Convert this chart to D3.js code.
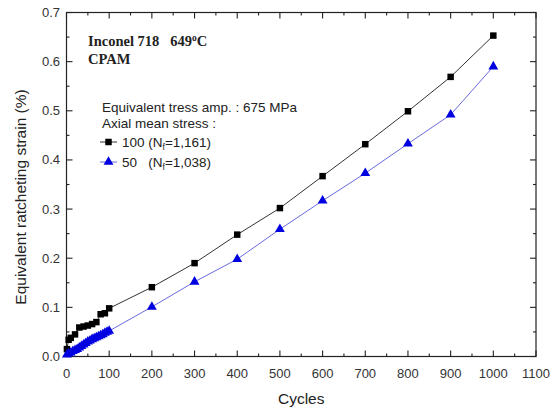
<!DOCTYPE html>
<html><head><meta charset="utf-8">
<script src="https://cdn.jsdelivr.net/npm/d3@7"></script>
<style>body{margin:0;background:#fff}svg{display:block}text{white-space:pre}</style>
</head><body>
<svg id="c" width="558" height="417"></svg>
<script>
const cyclesA = [1, 5, 10, 20, 30, 40, 50, 60, 70, 80, 90, 100, 200, 300, 400, 500, 600, 700, 800, 900, 1000];
const strainA = [0.015, 0.034, 0.038, 0.045, 0.059, 0.061, 0.063, 0.066, 0.070, 0.086, 0.088, 0.098, 0.141, 0.190, 0.248, 0.302, 0.367, 0.432, 0.499, 0.569, 0.653];
const cyclesB = [1, 5, 10, 15, 20, 25, 30, 35, 40, 45, 50, 55, 60, 65, 70, 75, 80, 85, 90, 95, 100, 200, 300, 400, 500, 600, 700, 800, 900, 1000];
const strainB = [0.004, 0.006, 0.008, 0.011, 0.013, 0.015, 0.018, 0.021, 0.024, 0.027, 0.030, 0.032, 0.035, 0.037, 0.039, 0.041, 0.043, 0.045, 0.048, 0.050, 0.052, 0.101, 0.152, 0.198, 0.259, 0.317, 0.373, 0.433, 0.492, 0.590];
const xTicks = [0, 100, 200, 300, 400, 500, 600, 700, 800, 900, 1000, 1100];
const yTicks = [0.0, 0.1, 0.2, 0.3, 0.4, 0.5, 0.6, 0.7];

const svg = d3.select("#c");
const L = 66.5, R = 536, T = 12.5, B = 356.5;
const x = d3.scaleLinear().domain([0, 1100]).range([L, R]);
const y = d3.scaleLinear().domain([0, 0.7]).range([B, T]);
const font = "Liberation Sans, Arial, sans-serif";

// frame
svg.append("rect").attr("x", L).attr("y", T).attr("width", R - L).attr("height", B - T)
  .attr("fill", "none").attr("stroke", "#222").attr("stroke-width", 1.2);

const minorX = d3.range(50, 1100, 100);
const minorY = d3.range(0.05, 0.7, 0.1);
const tk = svg.append("g").attr("stroke", "#222").attr("stroke-width", 1.1);
xTicks.forEach(v => {
  tk.append("line").attr("x1", x(v)).attr("x2", x(v)).attr("y1", B).attr("y2", B - 6);
  tk.append("line").attr("x1", x(v)).attr("x2", x(v)).attr("y1", T).attr("y2", T + 6);
});
minorX.forEach(v => {
  tk.append("line").attr("x1", x(v)).attr("x2", x(v)).attr("y1", B).attr("y2", B - 3);
  tk.append("line").attr("x1", x(v)).attr("x2", x(v)).attr("y1", T).attr("y2", T + 3);
});
yTicks.forEach(v => {
  tk.append("line").attr("y1", y(v)).attr("y2", y(v)).attr("x1", L).attr("x2", L + 6);
  tk.append("line").attr("y1", y(v)).attr("y2", y(v)).attr("x1", R).attr("x2", R - 6);
});
minorY.forEach(v => {
  tk.append("line").attr("y1", y(v)).attr("y2", y(v)).attr("x1", L).attr("x2", L + 3);
  tk.append("line").attr("y1", y(v)).attr("y2", y(v)).attr("x1", R).attr("x2", R - 3);
});

// tick labels
svg.append("g").selectAll("text").data(xTicks).join("text")
  .attr("x", d => x(d)).attr("y", 378).attr("text-anchor", "middle")
  .attr("font-family", font).attr("font-size", 13).attr("fill", "#333").text(d => d);
svg.append("g").selectAll("text").data(yTicks).join("text")
  .attr("x", 60).attr("y", d => y(d) + 4.5).attr("text-anchor", "end")
  .attr("font-family", font).attr("font-size", 13).attr("fill", "#333").text(d => d.toFixed(1));

// axis titles
svg.append("text").attr("x", x(550)).attr("y", 404).attr("text-anchor", "middle")
  .attr("font-family", font).attr("font-size", 15.5).attr("fill", "#222").text("Cycles");
svg.append("text").attr("transform", "translate(26,197) rotate(-90)")
  .attr("text-anchor", "middle").attr("font-family", font).attr("font-size", 15.5).attr("fill", "#222")
  .text("Equivalent ratcheting strain (%)");

// series
const line = d3.line().x(d => x(d[0])).y(d => y(d[1]));
const dA = cyclesA.map((c, i) => [c, strainA[i]]);
const dB = cyclesB.map((c, i) => [c, strainB[i]]);
svg.append("path").datum(dA).attr("d", line).attr("fill", "none").attr("stroke", "#333").attr("stroke-width", 1);
svg.append("path").datum(dB).attr("d", line).attr("fill", "none").attr("stroke", "#6a6ae0").attr("stroke-width", 1);
const sq = d3.symbol().type(d3.symbolSquare).size(42);
const tri = d3.symbol().type(d3.symbolTriangle).size(42);
svg.append("g").selectAll("path").data(dA).join("path").attr("d", sq)
  .attr("transform", d => `translate(${x(d[0])},${y(d[1])})`).attr("fill", "#000");
svg.append("g").selectAll("path").data(dB).join("path").attr("d", tri)
  .attr("transform", d => `translate(${x(d[0])},${y(d[1])})`).attr("fill", "#0000e0");

// annotations
const serif = "Liberation Serif, Times New Roman, serif";
const t1 = svg.append("text").attr("x", 88).attr("y", 46).attr("font-family", serif)
  .attr("font-weight", "bold").attr("font-size", 14.5).attr("fill", "#222");
t1.append("tspan").text("Inconel 718   649");
t1.append("tspan").attr("dy", -5).attr("font-size", 9.5).text("o");
t1.append("tspan").attr("dy", 5).text("C");
svg.append("text").attr("x", 88).attr("y", 64).attr("font-family", serif)
  .attr("font-weight", "bold").attr("font-size", 14.5).attr("fill", "#222").text("CPAM");

svg.append("text").attr("x", 102).attr("y", 112).attr("font-family", font).attr("font-size", 13.5)
  .attr("fill", "#222").text("Equivalent tress amp. : 675 MPa");
svg.append("text").attr("x", 102).attr("y", 128).attr("font-family", font).attr("font-size", 13.5)
  .attr("fill", "#222").text("Axial mean stress :");

const legend = [
  {label: "100 (N", sub: "f", rest: "=1,161)", c: "#333", m: "#000", sym: sq, yy: 142},
  {label: "50   (N", sub: "f", rest: "=1,038)", c: "#6a6ae0", m: "#0000e0", sym: tri, yy: 162}
];
legend.forEach(l => {
  svg.append("line").attr("x1", 100).attr("x2", 117).attr("y1", l.yy).attr("y2", l.yy)
    .attr("stroke", l.c).attr("stroke-width", 1);
  svg.append("path").attr("d", l.sym).attr("transform", `translate(108.5,${l.yy})`).attr("fill", l.m);
  const t = svg.append("text").attr("x", 122).attr("y", l.yy + 4.5).attr("font-family", font)
    .attr("font-size", 13.5).attr("fill", "#222");
  t.append("tspan").text(l.label);
  t.append("tspan").attr("dy", 3).attr("font-size", 8.5).text(l.sub);
  t.append("tspan").attr("dy", -3).text(l.rest);
});
</script>
</body></html>
